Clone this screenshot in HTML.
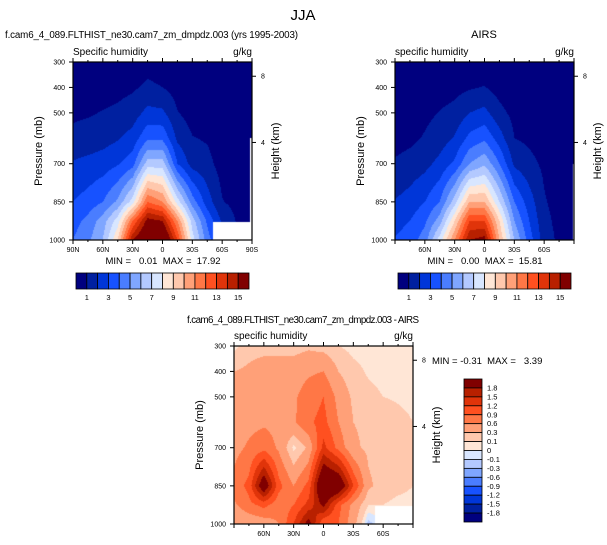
<!DOCTYPE html>
<html><head><meta charset="utf-8">
<style>
body{margin:0;background:#fff;}
#root{position:relative;width:607px;height:545px;overflow:hidden;font-family:"Liberation Sans",sans-serif;}
canvas{position:absolute;}
svg{position:absolute;left:0;top:0;}
svg text{font-family:"Liberation Sans",sans-serif;fill:#000;white-space:pre;}
.ttl{font-size:10px;}
.ax{font-size:11px;}
</style></head>
<body>
<div id="root">
<canvas id="c1" style="left:73px;top:62px" width="179" height="178"></canvas>
<canvas id="c2" style="left:395px;top:62px" width="179" height="178"></canvas>
<canvas id="c3" style="left:234px;top:346px" width="179" height="178"></canvas>
<svg id="svgroot" width="607" height="545">
<g id="ticks"></g>
<g id="bars"></g>
<text x="303" y="20" font-size="15" text-anchor="middle">JJA</text>
<text x="5" y="38" font-size="9.8" textLength="293">f.cam6_4_089.FLTHIST_ne30.cam7_zm_dmpdz.003 (yrs 1995-2003)</text>
<text x="484" y="38" font-size="11" text-anchor="middle">AIRS</text>
<text x="187" y="323" font-size="9.8" textLength="232">f.cam6_4_089.FLTHIST_ne30.cam7_zm_dmpdz.003 - AIRS</text>

<g>
<text class="ttl" x="73" y="55">Specific humidity</text>
<text class="ttl" x="252" y="55" text-anchor="end">g/kg</text>
<text class="ax" transform="translate(42,151) rotate(-90)" text-anchor="middle">Pressure (mb)</text>
<text class="ax" transform="translate(279,151) rotate(-90)" text-anchor="middle">Height (km)</text>
<text x="163" y="264" font-size="9.5" text-anchor="middle">MIN =   0.01  MAX =  17.92</text>
</g>
<g>
<text class="ttl" x="395" y="55">specific humidity</text>
<text class="ttl" x="574" y="55" text-anchor="end">g/kg</text>
<text class="ax" transform="translate(364,151) rotate(-90)" text-anchor="middle">Pressure (mb)</text>
<text class="ax" transform="translate(601,151) rotate(-90)" text-anchor="middle">Height (km)</text>
<text x="485" y="264" font-size="9.5" text-anchor="middle">MIN =   0.00  MAX =  15.81</text>
</g>
<g>
<text class="ttl" x="234" y="339">specific humidity</text>
<text class="ttl" x="413" y="339" text-anchor="end">g/kg</text>
<text class="ax" transform="translate(203,435) rotate(-90)" text-anchor="middle">Pressure (mb)</text>
<text class="ax" transform="translate(440,435) rotate(-90)" text-anchor="middle">Height (km)</text>
<text x="432" y="364" font-size="9.5">MIN = -0.31  MAX =   3.39</text>
</g>
</svg>
</div>
<script>
const lats=[90,75,60,45,30,15,0,-15,-30,-45,-60,-75,-90];
const levels=[300,400,500,600,700,850,925,1000];
const modelQ=[
[.1,.15,.2,.3,.4,.6,.5,.3,.2,.1,.1,.1,.05],
[.4,.5,.6,.7,.85,1.2,1.0,.6,.35,.25,.2,.15,.1],
[.8,.9,1.05,1.2,1.5,2.3,2.2,1.05,.6,.5,.35,.25,.2],
[1.3,1.4,1.6,1.9,2.4,3.8,3.8,1.8,1.05,.9,.5,.35,.3],
[2.1,2.3,2.5,2.9,3.6,6.5,6.5,3,1.6,1.3,.6,.45,.4],
[3,3.4,4,5.2,7.5,12,11,7.5,4.5,2.5,1.05,.7,.5],
[3.6,4.3,5.5,7.5,12,15.5,15,11,6.5,3.8,1.8,.9,.7],
[4,4.8,6,9,15,17,17.5,13,7.5,4.5,2.5,1.2,.8]];
const airsQ=[
[.05,.08,.1,.15,.2,.3,.35,.25,.15,.1,.08,.05,.03],
[.1,.2,.35,.55,.7,.9,1.05,.6,.4,.3,.2,.1,.05],
[.3,.5,.75,1.05,1.3,2,2.3,1.3,.7,.5,.3,.2,.1],
[.55,.75,1.1,1.5,2.1,3.3,3.8,2.5,1.0,.8,.5,.3,.1],
[1.15,1.4,1.7,2.3,3.2,5,5.8,4,1.8,1.3,.8,.4,.2],
[2.05,2.4,3,4,6.5,10,10,7,4,2.5,1.1,.6,.3],
[2.6,3,3.8,5.5,9,13,13,9,5,3,1.3,.7,.4],
[3.1,3.5,4.5,7.5,11,15,15.5,10,6,3.5,1.5,.8,.5]];
const diffQ=[
[.05,.2,.2,.2,.2,.25,.2,.1,.05,.05,.05,.05,.05],
[.3,.35,.45,.45,.45,.55,.6,.3,.15,.08,.05,.05,.05],
[.4,.4,.45,.5,.55,.75,.9,.5,.25,.15,.1,.08,.06],
[.45,.5,.55,.5,.55,.85,1.0,.6,.3,.25,.2,.15,.1],
[.5,.65,.8,.55,.05,.35,1.3,.8,.35,.25,.2,.15,.1],
[.7,1.0,2.2,1.0,.6,1.0,2.5,2.3,1.2,.35,.2,.15,.1],
[.55,.8,1.0,.7,.9,1.3,1.9,1.0,.5,.1,.1,.05,.05],
[.3,.35,.4,.6,1.2,2.0,.9,.9,.4,-.15,0,0,0]];
const qLevels=[1,2,3,4,5,6,7,8,9,10,11,12,13,14,15];
const qLabels=["1","3","5","7","9","11","13","15"];
const dLevels=[-1.8,-1.5,-1.2,-0.9,-0.6,-0.3,-0.1,0,0.1,0.3,0.6,0.9,1.2,1.5,1.8];
const dLabels=["-1.8","-1.5","-1.2","-0.9","-0.6","-0.3","-0.1","0","0.1","0.3","0.6","0.9","1.2","1.5","1.8"];
const pTicks=[300,400,500,700,850,1000];
const hTicks=[8,4];
const latTicks=[90,60,30,0,-30,-60,-90];
const latNames=["90N","60N","30N","0","30S","60S","90S"];
const colors=['#00007f','#0020a0','#0036d8','#1752ff','#4a7dff','#7fa6ff','#b3c9ff','#d8e6ff','#ffe6d6','#ffc8ad','#ffa078','#ff7746','#ff5020','#e0340a','#b82000','#800000'];
const rgb=colors.map(c=>[parseInt(c.substr(1,2),16),parseInt(c.substr(3,2),16),parseInt(c.substr(5,2),16)]);

function fieldAt(F,lat,p){
  const fi=(90-lat)/15; const i0=Math.max(0,Math.min(11,Math.floor(fi))); const tx=fi-i0;
  let j0=0; while(j0<levels.length-2 && p>levels[j0+1]) j0++;
  let ty=(p-levels[j0])/(levels[j0+1]-levels[j0]); ty=Math.max(0,Math.min(1,ty));
  const a=F[j0][i0],b=F[j0][i0+1],c=F[j0+1][i0],d=F[j0+1][i0+1];
  return (a*(1-tx)+b*tx)*(1-ty)+(c*(1-tx)+d*tx)*ty;
}
function bin(v,L){let k=0;while(k<L.length&&v>=L[k])k++;return k;}
function drawField(id,F,L,mask){
  const cv=document.getElementById(id),ctx=cv.getContext('2d');
  const W=cv.width,H=cv.height,img=ctx.createImageData(W,H);
  for(let y=0;y<H;y++)for(let x=0;x<W;x++){
    const lat=90-(x+0.5)/W*180,p=300+(y+0.5)/H*700,o=(y*W+x)*4;
    let c=[255,255,255];
    if(!mask(lat,p)) c=rgb[bin(fieldAt(F,lat,p),L)];
    img.data[o]=c[0];img.data[o+1]=c[1];img.data[o+2]=c[2];img.data[o+3]=255;
  }
  ctx.putImageData(img,0,0);
}
try{drawField('c1',modelQ,qLevels,function(la,p){return (la<-51&&p>930)||(la<-87.5&&p>600);});}catch(e){}
try{drawField('c2',airsQ,qLevels,function(la,p){return la<-88.5&&p>700;});}catch(e){}
try{drawField('c3',diffQ,dLevels,function(la,p){return la<-52&&p>930;});}catch(e){}

const SVGNS='http://www.w3.org/2000/svg';
const tickG=document.getElementById('ticks');
const barG=document.getElementById('bars');
function mk(parent,tag,attrs,txt){
  const e=document.createElementNS(SVGNS,tag);
  Object.keys(attrs).forEach(function(k){e.setAttribute(k,String(attrs[k]));});
  if(txt!==undefined) e.textContent=txt;
  parent.appendChild(e);
  return e;
}
function hToP(h){return 1013.25*Math.pow(1-2.25577e-5*h,5.25588);}
function panel(x0,y0,showAll,pfx){
  const W=179,H=178;
  const xs=function(lat){return x0+(90-lat)/180*W;};
  const ys=function(p){return y0+(p-300)/700*H;};
  const fr=mk(tickG,'rect',{x:x0,y:y0,width:W,height:H,fill:'none',stroke:'#000','stroke-width':1.2});
  
  
  for(let k=0;k<=12;k++){
    const lat=90-15*k, len=(k%2===0)?4:2, x=xs(lat);
    mk(tickG,'line',{x1:x,x2:x,y1:y0,y2:y0-len,stroke:'#000','stroke-width':1});
    mk(tickG,'line',{x1:x,x2:x,y1:y0+H,y2:y0+H+len,stroke:'#000','stroke-width':1});
  }
  for(let i=0;i<latTicks.length;i++){
    const la=latTicks[i];
    if(!showAll && Math.abs(la)===90) continue;
    const t=mk(tickG,'text',{x:xs(la),y:y0+H+12,'font-size':7,'text-anchor':'middle'},latNames[i]);
    
    
  }
  for(let i=0;i<pTicks.length;i++){
    const p=pTicks[i];
    mk(tickG,'line',{x1:x0-4,x2:x0,y1:ys(p),y2:ys(p),stroke:'#000','stroke-width':1});
    const t=mk(tickG,'text',{x:x0-8,y:ys(p)+2.5,'font-size':7,'text-anchor':'end'},String(p));
    
    
  }
  for(let i=0;i<hTicks.length;i++){
    const y=ys(hToP(hTicks[i]*1000));
    mk(tickG,'line',{x1:x0+W,x2:x0+W+4,y1:y,y2:y,stroke:'#000','stroke-width':1});
    const t=mk(tickG,'text',{x:x0+W+9,y:y+2.5,'font-size':7},String(hTicks[i]));
    
    
  }
}
try{panel(73,62,true,'model');}catch(e){}
try{panel(395,62,false,'airs');}catch(e){}
try{panel(234,346,false,'diff');}catch(e){}

function hbar(x0,y0,pfx){
  const W=173,H=16,n=colors.length,w=W/n;
  for(let i=0;i<n;i++){
    const r=mk(barG,'rect',{x:x0+i*w,y:y0,width:w,height:H,fill:colors[i],stroke:'#000','stroke-width':0.8});
    
    
  }
  for(let i=0;i<qLabels.length;i++){
    const t=mk(barG,'text',{x:x0+(2*i+1)*w,y:y0+H+11,'font-size':7.5,'text-anchor':'middle'},qLabels[i]);
    
    
  }
}
try{hbar(76,273,'model');}catch(e){}
try{hbar(398,273,'airs');}catch(e){}
try{
  const x0=464,y0=379,W=18,H=143,n=colors.length,h=H/n;
  for(let i=0;i<n;i++){
    const r=mk(barG,'rect',{x:x0,y:y0+i*h,width:W,height:h,fill:colors[n-1-i],stroke:'#000','stroke-width':0.8});
    
    
  }
  for(let k=0;k<dLabels.length;k++){
    const t=mk(barG,'text',{x:x0+W+5,y:y0+(k+1)*h+2.5,'font-size':7.5},dLabels[dLabels.length-1-k]);
    
    
  }
}catch(e){}
</script>
</body></html>
